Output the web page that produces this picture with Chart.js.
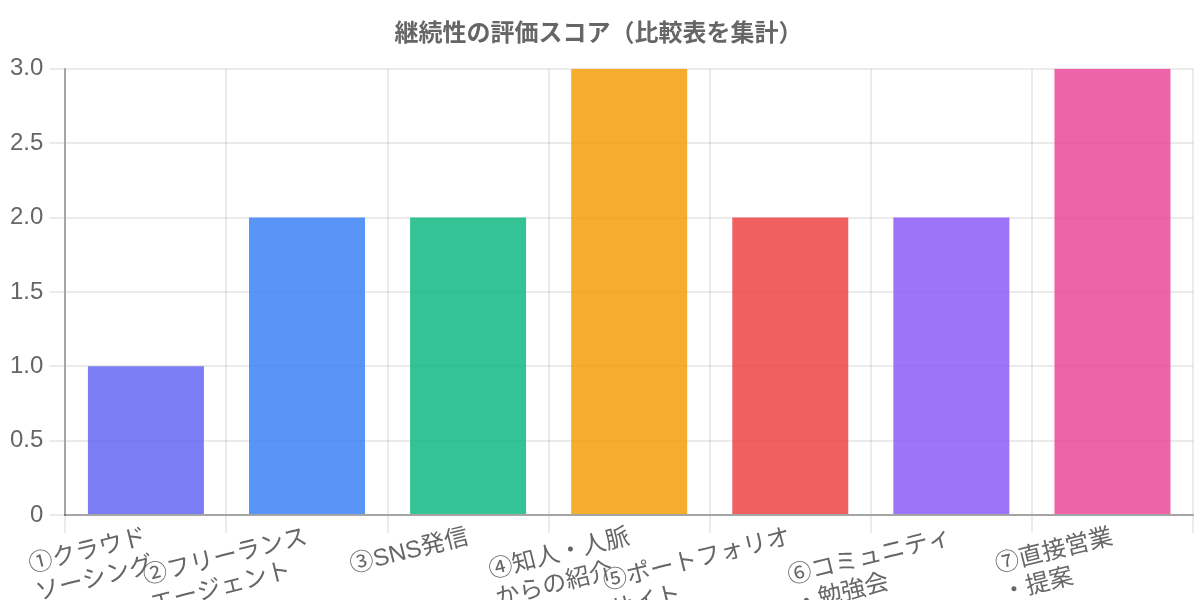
<!DOCTYPE html>
<html>
<head>
<meta charset="utf-8">
<script src="https://cdn.jsdelivr.net/npm/chart.js@4"></script>
<style>
  html, body { margin: 0; padding: 0; background: #fff; overflow: hidden; }
  #wrap { width: 1200px; height: 600px; }
</style>
</head>
<body>
<div id="wrap"><canvas id="scoreChart"></canvas></div>
<script>
// 継続性の評価スコア
const categories = [
    ['①クラウド', 'ソーシング'],
    ['②フリーランス', 'エージェント'],
    '③SNS発信',
    ['④知人・人脈', 'からの紹介'],
    ['⑤ポートフォリオ', 'サイト'],
    ['⑥コミュニティ', '・勉強会'],
    ['⑦直接営業', '・提案']
];
const scores = [1, 2, 2, 3, 2, 2, 3];
const barColors = [
    'rgba(99, 102, 241, 0.85)',
    'rgba(59, 130, 246, 0.85)',
    'rgba(16, 185, 129, 0.85)',
    'rgba(245, 158, 11, 0.85)',
    'rgba(239, 68, 68, 0.85)',
    'rgba(139, 92, 246, 0.85)',
    'rgba(236, 72, 153, 0.85)'
];

Chart.defaults.font.family = '"Liberation Sans", "Noto Sans CJK JP", sans-serif';
Chart.defaults.font.size = 24;

const gridColor = 'rgba(0, 0, 0, 0.08)';
const axisColor = 'rgba(0, 0, 0, 0.3)';

// rotated labels are right-aligned by Chart.js; pad the shorter line
// with ideographic spaces so both lines start at the same point
function padLines(label) {
    if (!Array.isArray(label)) return label;
    const n = Math.max(...label.map(s => [...s].length));
    return label.map(s => s + '\u3000'.repeat(n - [...s].length));
}

const ctx = document.getElementById('scoreChart').getContext('2d');
new Chart(ctx, {
    type: 'bar',
    data: {
        labels: categories,
        datasets: [{
            label: '継続性',
            data: scores,
            backgroundColor: barColors,
            borderWidth: 0
        }]
    },
    options: {
        responsive: true,
        maintainAspectRatio: false,
        animation: false,
        layout: {
            padding: { left: 4, right: 7 }
        },
        plugins: {
            legend: {
                display: false
            },
            title: {
                display: true,
                text: '継続性の評価スコア（比較表を集計）',
                font: {
                    weight: 'bold'
                },
                padding: 20
            }
        },
        scales: {
            y: {
                min: 0,
                max: 3,
                ticks: {
                    stepSize: 0.5,
                    padding: 6
                },
                grid: {
                    color: gridColor,
                    lineWidth: 2,
                    tickLength: 16
                },
                border: {
                    width: 2,
                    color: axisColor
                }
            },
            x: {
                ticks: {
                    autoSkip: false,
                    padding: -10,
                    minRotation: 14,
                    maxRotation: 14,
                    callback: function (value) {
                        return padLines(this.getLabelForValue(value));
                    }
                },
                grid: {
                    color: gridColor,
                    lineWidth: 2,
                    tickLength: 18
                },
                border: {
                    width: 2,
                    color: axisColor
                },
                // the labels run past the bottom edge, as in the original
                afterFit: (scale) => {
                    scale.height = 85;
                }
            }
        }
    }
});
</script>
</body>
</html>
